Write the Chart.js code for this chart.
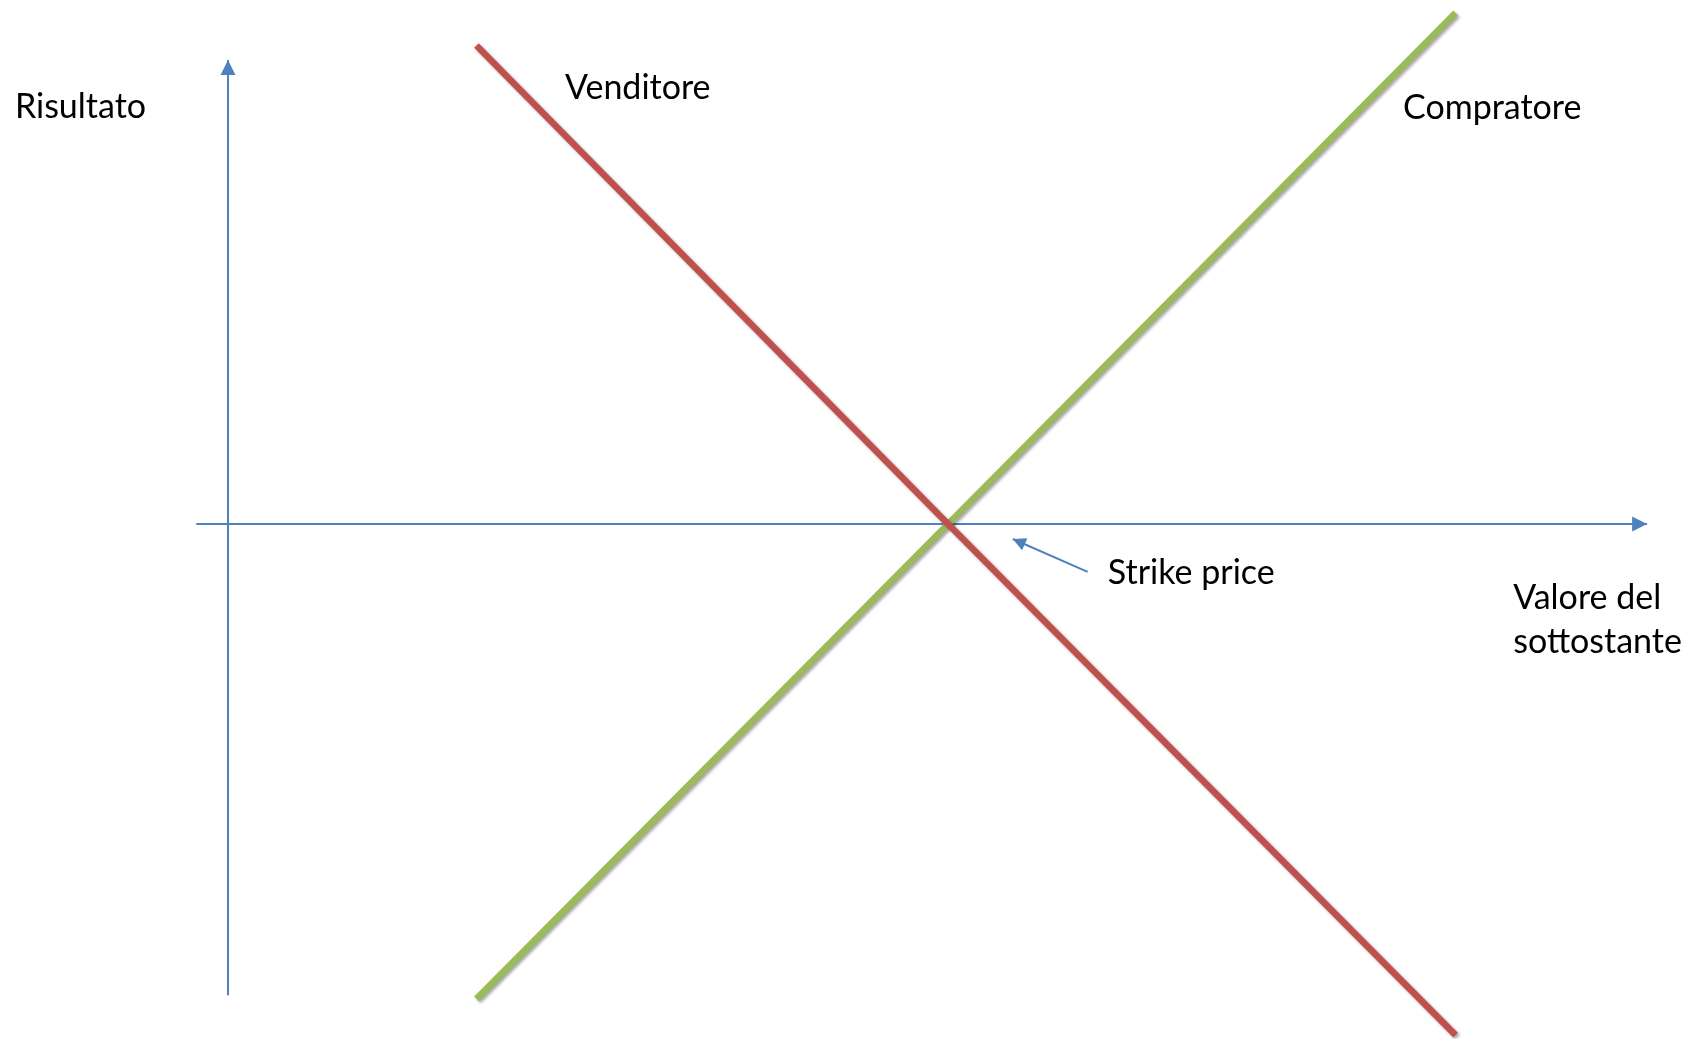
<!DOCTYPE html>
<html>
<head>
<meta charset="utf-8">
<script src="https://cdn.jsdelivr.net/npm/chart.js@4.4.1/dist/chart.umd.min.js"></script>
<style>
  html, body { margin: 0; padding: 0; background: #ffffff; }
  #wrap { width: 1698px; height: 1039px; }
</style>
</head>
<body>
<div id="wrap"><canvas id="c" width="1698" height="1039"></canvas></div>
<script>
// ---- Data (abstract units: strike price K = 100) ----
const strike = 100;
const underlyingValues = [34.5, 100, 170.5];     // Valore del sottostante
const buyerResult = [-65.5, 0, 70.5];             // Compratore
const sellerResult = [66, 0, -70.5];              // Venditore
const xAxisRange = [-4.4, 197.1];                 // horizontal axis extent
const yAxisRange = [-65, 64];                     // vertical axis extent
const strikeArrowX = [119.4, 109];
const strikeArrowY = [-6.6, -2.07];
const labelTexts = ['Risultato', 'Venditore', 'Compratore', 'Strike price', 'Valore del', 'sottostante'];

const toPts = (xs, ys) => xs.map((x, i) => ({ x: x, y: ys[i] }));

const BLUE = '#4F81BD', RED = '#C0504D', GREEN = '#9BBB59';

const datasets = [
  { label: 'Venditore', data: toPts(underlyingValues, sellerResult), borderColor: RED, borderWidth: 6.5, order: 0, shadow: true },
  { label: 'Compratore', data: toPts(underlyingValues, buyerResult), borderColor: GREEN, borderWidth: 6.5, order: 1, shadow: true },
  { label: 'xaxis', data: toPts(xAxisRange, [0, 0]), borderColor: BLUE, borderWidth: 2, order: 2, arrow: 15 },
  { label: 'yaxis', data: toPts([0, 0], yAxisRange), borderColor: BLUE, borderWidth: 2, order: 3, arrow: 15 },
  { label: 'strike', data: toPts(strikeArrowX, strikeArrowY), borderColor: BLUE, borderWidth: 2, order: 4, arrow: 13 }
];
datasets.forEach(d => { d.showLine = true; d.pointRadius = 0; d.fill = false; d.borderCapStyle = 'butt'; });

// label anchors (data units; left / baseline)
const labelPos = [
  [-29.6, 56.0], [46.8, 58.6], [163.2, 55.9], [122.2, -8.28], [178.5, -11.72], [178.5, -17.8]
];

const decor = {
  id: 'decor',
  beforeDatasetDraw(chart, args) {
    const ds = chart.data.datasets[args.index];
    const ctx = chart.ctx;
    ctx.save();
    if (ds.shadow) {
      ctx.shadowColor = 'rgba(0,0,0,0.35)';
      ctx.shadowOffsetX = 2;
      ctx.shadowOffsetY = 2;
      ctx.shadowBlur = 3;
    }
  },
  afterDatasetDraw(chart, args) {
    const ds = chart.data.datasets[args.index];
    const ctx = chart.ctx;
    ctx.restore();
    if (ds.arrow) {
      const xs = chart.scales.x, ys = chart.scales.y;
      const n = ds.data.length;
      const p1 = ds.data[n - 2], p2 = ds.data[n - 1];
      const x1 = xs.getPixelForValue(p1.x), y1 = ys.getPixelForValue(p1.y);
      const x2 = xs.getPixelForValue(p2.x), y2 = ys.getPixelForValue(p2.y);
      const a = Math.atan2(y2 - y1, x2 - x1);
      const L = ds.arrow, W = ds.arrow * 0.5;
      ctx.save();
      ctx.fillStyle = ds.borderColor;
      ctx.beginPath();
      ctx.moveTo(x2, y2);
      ctx.lineTo(x2 - L * Math.cos(a) + W * Math.sin(a), y2 - L * Math.sin(a) - W * Math.cos(a));
      ctx.lineTo(x2 - L * Math.cos(a) - W * Math.sin(a), y2 - L * Math.sin(a) + W * Math.cos(a));
      ctx.closePath();
      ctx.fill();
      ctx.restore();
    }
  },
  afterDraw(chart) {
    const ctx = chart.ctx;
    const xs = chart.scales.x, ys = chart.scales.y;
    ctx.save();
    ctx.fillStyle = '#000000';
    ctx.font = '34px Lato, "Open Sans", sans-serif';
    ctx.textAlign = 'left';
    ctx.textBaseline = 'alphabetic';
    labelTexts.forEach((t, i) => {
      ctx.fillText(t, xs.getPixelForValue(labelPos[i][0]), ys.getPixelForValue(labelPos[i][1]));
    });
    ctx.restore();
  }
};

new Chart(document.getElementById('c'), {
  type: 'scatter',
  data: { datasets: datasets },
  options: {
    responsive: false,
    animation: false,
    layout: { padding: 0 },
    plugins: { legend: { display: false }, tooltip: { enabled: false } },
    scales: {
      x: { type: 'linear', display: false, min: -31.67, max: 204.17 },
      y: { type: 'linear', display: false, min: -71.03, max: 72.28 }
    }
  },
  plugins: [decor]
});
</script>
</body>
</html>
